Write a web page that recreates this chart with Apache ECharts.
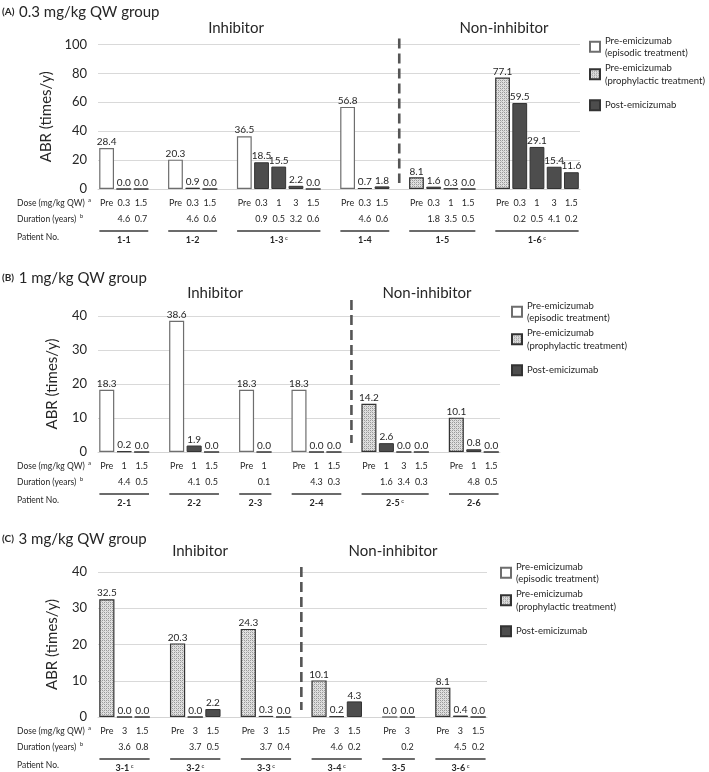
<!DOCTYPE html>
<html><head><meta charset="utf-8">
<script src="https://cdn.jsdelivr.net/npm/echarts@6/dist/echarts.min.js"></script>
<style>html,body{margin:0;padding:0;background:#fff}#c{width:709px;height:772px}</style>
</head><body><div id="c"></div>
<script>
// ---------- Panel A: 0.3 mg/kg QW ----------
const patientsA = ['1-1','1-2','1-3','1-4','1-5','1-6'];
const footnoteA = [0,0,1,0,0,1];
const preTypeA = ['e','e','e','e','p','p'];
const preA = [28.4,20.3,36.5,56.8,8.1,77.1];
const dosesA = [['0.3','1.5'],['0.3','1.5'],['0.3','1','3','1.5'],['0.3','1.5'],['0.3','1','1.5'],['0.3','1','3','1.5']];
const durationsA = [['4.6','0.7'],['4.6','0.6'],['0.9','0.5','3.2','0.6'],['4.6','0.6'],['1.8','3.5','0.5'],['0.2','0.5','4.1','0.2']];
const postA = [[0.0,0.0],[0.9,0.0],[18.5,15.5,2.2,0.0],[0.7,1.8],[1.6,0.3,0.0],[59.5,29.1,15.4,11.6]];
const firstNonInhA = 4;
const yMaxA = 100, yStepA = 20;

// ---------- Panel B: 1 mg/kg QW ----------
const patientsB = ['2-1','2-2','2-3','2-4','2-5','2-6'];
const footnoteB = [0,0,0,0,1,0];
const preTypeB = ['e','e','e','e','p','p'];
const preB = [18.3,38.6,18.3,18.3,14.2,10.1];
const dosesB = [['1','1.5'],['1','1.5'],['1'],['1','1.5'],['1','3','1.5'],['1','1.5']];
const durationsB = [['4.4','0.5'],['4.1','0.5'],['0.1'],['4.3','0.3'],['1.6','3.4','0.3'],['4.8','0.5']];
const postB = [[0.2,0.0],[1.9,0.0],[0.0],[0.0,0.0],[2.6,0.0,0.0],[0.8,0.0]];
const firstNonInhB = 4;
const yMaxB = 40, yStepB = 10;

// ---------- Panel C: 3 mg/kg QW ----------
const patientsC = ['3-1','3-2','3-3','3-4','3-5','3-6'];
const footnoteC = [1,1,1,1,0,1];
const preTypeC = ['p','p','p','p','p','p'];
const preC = [32.5,20.3,24.3,10.1,0.0,8.1];
const dosesC = [['3','1.5'],['3','1.5'],['3','1.5'],['3','1.5'],['3'],['3','1.5']];
const durationsC = [['3.6','0.8'],['3.7','0.5'],['3.7','0.4'],['4.6','0.2'],['0.2'],['4.5','0.2']];
const postC = [[0.0,0.0],[0.0,2.2],[0.3,0.0],[0.2,4.3],[0.0],[0.4,0.0]];
const firstNonInhC = 3;
const yMaxC = 40, yStepC = 10;

const titles = [['(A)','0.3 mg/kg QW group'],['(B)','1 mg/kg QW group'],['(C)','3 mg/kg QW group']];
const legendNames = {epi:'Pre-emicizumab\n(episodic treatment)', pro:'Pre-emicizumab\n(prophylactic treatment)', post:'Post-emicizumab'};

const FONT = 'Lato';
const TXT = '#262626';

function buildSlots(patients, preType, pre, doses, durations, post, firstNonInh){
  const cats=[], durs=[], epi=[], pro=[], pst=[], groups=[]; let sep=null;
  patients.forEach((name,i)=>{
    if(i>0){ if(i===firstNonInh) sep=cats.length; cats.push(''); durs.push(''); epi.push(null); pro.push(null); pst.push(null); }
    const first=cats.length;
    cats.push('Pre'); durs.push('');
    epi.push(preType[i]==='e'?pre[i]:null); pro.push(preType[i]==='p'?pre[i]:null); pst.push(null);
    doses[i].forEach((d,j)=>{ cats.push(d); durs.push(durations[i][j]); epi.push(null); pro.push(null); pst.push(post[i][j]); });
    groups.push([first, cats.length-1, i]);
  });
  return {cats,durs,epi,pro,pst,groups,sep};
}

const panels = [
  Object.assign(buildSlots(patientsA,preTypeA,preA,dosesA,durationsA,postA,firstNonInhA),{patients:patientsA,foot:footnoteA,max:yMaxA,step:yStepA}),
  Object.assign(buildSlots(patientsB,preTypeB,preB,dosesB,durationsB,postB,firstNonInhB),{patients:patientsB,foot:footnoteB,max:yMaxB,step:yStepB}),
  Object.assign(buildSlots(patientsC,preTypeC,preC,dosesC,durationsC,postC,firstNonInhC),{patients:patientsC,foot:footnoteC,max:yMaxC,step:yStepC})
];

// layout (pixels)
const layout = [
  {top:44.5, bottom:583, left:98, right:129, zero:189, title:12, head:28, inhX:236, nonX:504, sepTop:6, sepBot:6, legL:589, legT:47},
  {top:316, bottom:320, left:98, right:209, zero:452, title:278, head:293, inhX:215, nonX:427, sepTop:16, sepBot:9, legL:511, legT:312},
  {top:572, bottom:55, left:98, right:222, zero:717, title:539, head:551, inhX:200, nonX:393, sepTop:5, sepBot:7, legL:500, legT:573}
];

// hatched pattern for prophylactic bars
const pc = document.createElement('canvas'); pc.width=4; pc.height=4;
const g = pc.getContext('2d');
g.fillStyle='#e0e0e0'; g.fillRect(0,0,4,4);
g.fillStyle='#999999'; g.fillRect(0,0,1,1); g.fillRect(2,2,1,1); g.fillRect(2,0,1,1); g.fillRect(0,2,1,1);
g.fillStyle='#c0c0c0'; g.fillRect(1,1,1,1); g.fillRect(3,3,1,1);
const pattern = {image: pc, repeat: 'repeat'};

const styles = {
  epi:{color:'#ffffff', borderColor:'#6e6e6e', borderWidth:1.2},
  pro:{color:pattern, borderColor:'#333333', borderWidth:1.2},
  post:{color:'#4d4d4d', borderColor:'#333333', borderWidth:1}
};

const option = {animation:false, textStyle:{fontFamily:FONT}, grid:[], xAxis:[], yAxis:[], series:[], legend:[], title:[], graphic:[]};

panels.forEach((P,k)=>{
  const L = layout[k];
  option.grid.push({left:L.left, right:L.right, top:L.top, bottom:L.bottom});
  option.xAxis.push({type:'category', gridIndex:k, data:P.cats, boundaryGap:true,
    axisLine:{lineStyle:{color:'#d4d4d4'}}, axisTick:{show:false},
    axisLabel:{interval:0, margin:6, color:TXT, fontSize:9, lineHeight:16, fontFamily:FONT,
      formatter:(v,i)=> v + '\n' + P.durs[i]}});
  option.yAxis.push({type:'value', gridIndex:k, min:0, max:P.max, interval:P.step,
    axisLine:{show:false}, axisTick:{show:false},
    splitLine:{lineStyle:{color:'#d9d9d9'}},
    axisLabel:{color:TXT, fontSize:13, margin:11, fontFamily:FONT},
    name:'ABR (times/y)', nameLocation:'middle', nameGap:38, nameRotate:90,
    nameTextStyle:{fontSize:15, color:TXT, fontFamily:FONT}});
  ['epi','pro','post'].forEach(key=>{
    const data = key==='epi'?P.epi:(key==='pro'?P.pro:P.pst);
    option.series.push({type:'bar', name:key, xAxisIndex:k, yAxisIndex:k, data:data,
      barWidth:'86%', barGap:'-100%', itemStyle:styles[key],
      label:{show:true, position:'top', distance:1, fontSize:10, color:TXT, fontFamily:FONT, formatter:p=>p.value==null?'':Number(p.value).toFixed(1)}});
  });
  // patient row
  option.series.push({type:'custom', xAxisIndex:k, yAxisIndex:k, silent:true, clip:false,
    encode:{x:0, y:-1},
    data:P.groups,
    renderItem:(params, api)=>{
      const s = api.coord([api.value(0), 0]);
      const e = api.coord([api.value(1), 0]);
      const w = api.size([1,0])[0];
      const x1 = s[0]-0.42*w, x2 = e[0]+0.42*w;
      const idx = api.value(2);
      const lab = P.foot[idx] ? '{b|'+P.patients[idx]+'}{s| c}' : '{b|'+P.patients[idx]+'}';
      return {type:'group', children:[
        {type:'line', shape:{x1:x1, y1:s[1]+42, x2:x2, y2:s[1]+42}, style:{stroke:'#3a3a3a', lineWidth:1.3}},
        {type:'text', x:(x1+x2)/2, y:s[1]+51, style:{text:lab, align:'center', verticalAlign:'middle',
          rich:{b:{fontSize:9, fontWeight:'bold', fill:TXT, fontFamily:FONT}, s:{fontSize:6, fill:TXT, fontFamily:FONT, verticalAlign:'top'}}}}
      ]};
    }});
  // separator dashed line
  option.series.push({type:'custom', xAxisIndex:k, yAxisIndex:k, silent:true, clip:false,
    encode:{x:0, y:-1},
    data:[[P.sep]],
    renderItem:(params, api)=>{
      const b = api.coord([api.value(0), 0]);
      const t = api.coord([api.value(0), P.max]);
      return {type:'line', shape:{x1:b[0], y1:t[1]-L.sepTop, x2:b[0], y2:b[1]-L.sepBot},
        style:{stroke:'#555555', lineWidth:2.6, lineDash:[10,5]}};
    }});
  // legend
  option.legend.push({orient:'vertical', left:L.legL, top:L.legT-19, padding:0, itemGap:-10,
    itemWidth:10, itemHeight:10, icon:'rect', selectedMode:false,
    formatter:n=>legendNames[n],
    textStyle:{fontSize:9.5, lineHeight:12.5, color:TXT, fontFamily:FONT},
    data:[
      {name:'epi', textStyle:{padding:[12.5,0,0,0]}},
      {name:'pro', textStyle:{padding:[12.5,0,0,0]}},
      {name:'post', textStyle:{padding:[16,0,16,0]}}
    ]});
  // title
  option.title.push({left:2, top:L.title-9, padding:0,
    text:'{a|'+titles[k][0]+'} {b|'+titles[k][1]+'}',
    textStyle:{fontWeight:'normal', rich:{a:{fontSize:10, fontWeight:'bold', color:TXT, fontFamily:FONT}, b:{fontSize:15, fontWeight:'normal', color:TXT, fontFamily:FONT}}}});
  // headers & row labels
  option.graphic.push(
    {type:'text', x:L.inhX, y:L.head, style:{text:'Inhibitor', font:'15px '+FONT, fill:TXT, align:'center', verticalAlign:'middle'}},
    {type:'text', x:L.nonX, y:L.head, style:{text:'Non-inhibitor', font:'15px '+FONT, fill:TXT, align:'center', verticalAlign:'middle'}},
    {type:'text', x:17, y:L.zero+14, style:{text:'{r|Dose (mg/kg QW)} {s|a}', verticalAlign:'middle', rich:{r:{fontSize:8.5, fill:TXT, fontFamily:FONT}, s:{fontSize:6, fill:TXT, fontFamily:FONT, verticalAlign:'top'}}}},
    {type:'text', x:17, y:L.zero+30, style:{text:'{r|Duration (years)} {s|b}', verticalAlign:'middle', rich:{r:{fontSize:8.5, fill:TXT, fontFamily:FONT}, s:{fontSize:6, fill:TXT, fontFamily:FONT, verticalAlign:'top'}}}},
    {type:'text', x:17, y:L.zero+48, style:{text:'Patient No.', font:'8.5px '+FONT, fill:TXT, verticalAlign:'middle'}}
  );
});

const chart = echarts.init(document.getElementById('c'), null, {renderer:'canvas'});
chart.setOption(option);
</script></body></html>
